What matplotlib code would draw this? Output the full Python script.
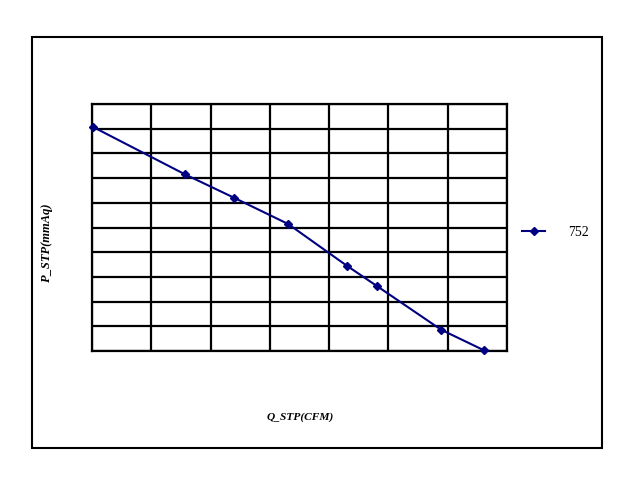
import matplotlib
matplotlib.use("Agg")
import matplotlib.pyplot as plt
from matplotlib.patches import Rectangle

# Data (in grid units: x 0..7, y 0..10)
q_stp = [0.01, 1.57, 2.40, 3.31, 4.30, 4.80, 5.89, 6.61]
p_stp = [9.08, 7.15, 6.20, 5.14, 3.45, 2.64, 0.86, 0.03]
series_name = "752"
x_label = "Q_STP(CFM)"
y_label = "P_STP(mmAq)"

W, H = 638, 479
fig = plt.figure(figsize=(W / 100, H / 100), dpi=100)
fig.patch.set_facecolor("white")

# outer chart-area border
fig.patches.append(Rectangle((31.5 / W, 1 - 447.5 / H), (602 - 31.5) / W, (447.5 - 36.5) / H,
                             transform=fig.transFigure, fill=False,
                             edgecolor="black", linewidth=1.5))

ax = fig.add_axes([92 / W, 1 - 351 / H, (507 - 92) / W, (351 - 104) / H])
ax.set_xlim(0, 7)
ax.set_ylim(0, 10)
ax.set_xticks(range(0, 8))
ax.set_yticks(range(0, 11))
ax.set_xticklabels([])
ax.set_yticklabels([])
ax.tick_params(length=0)
ax.grid(True, color="black", linewidth=1.6)
ax.set_axisbelow(True)
for s in ax.spines.values():
    s.set_color("black")
    s.set_linewidth(1.6)

line, = ax.plot(q_stp, p_stp, color="#000080", linewidth=1.5, marker="D",
                markersize=4.5, clip_on=False, zorder=5)

serif = ["Liberation Serif", "DejaVu Serif"]
fig.text(300 / W, 1 - 417 / H, x_label, ha="center", va="center",
         fontsize=8.2, fontweight="bold", fontstyle="italic", family=serif)
fig.text(47 / W, 1 - 243 / H, y_label, ha="center", va="center", rotation=90,
         fontsize=9, fontweight="bold", fontstyle="italic", family=serif)

leg = fig.legend([line], [series_name], loc="center left",
                 bbox_to_anchor=(510 / W, 1 - 232 / H), frameon=False,
                 prop={"family": serif, "size": 10}, handlelength=1.6,
                 handletextpad=1.7)

fig.savefig("out.png", dpi=100)
